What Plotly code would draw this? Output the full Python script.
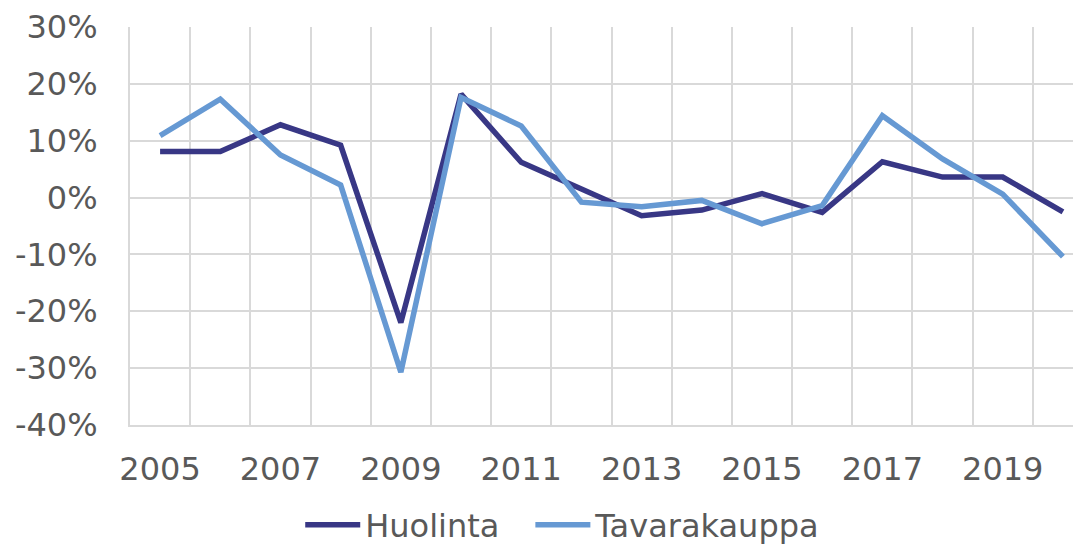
import plotly.graph_objects as go

years = list(range(2005, 2021))
huolinta = [8.1, 8.1, 12.8, 9.2, -22.0, 18.2, 6.2, 1.6, -3.2, -2.2, 0.7, -2.6, 6.3, 3.6, 3.6, -2.5]
tavarakauppa = [10.9, 17.3, 7.5, 2.2, -30.7, 17.6, 12.6, -0.8, -1.6, -0.5, -4.6, -1.4, 14.4, 6.8, 0.6, -10.4]
tick_years = [2005, 2007, 2009, 2011, 2013, 2015, 2017, 2019]
y_ticks = [30, 20, 10, 0, -10, -20, -30, -40]
y_ticklabels = ["30%", "20%", "10%", "0%", "-10%", "-20%", "-30%", "-40%"]

font_family = "DejaVu Sans"
text_color = "#595959"
grid_color = "#d9d9d9"

fig = go.Figure()
fig.add_trace(go.Scatter(x=years, y=huolinta, mode="lines", name="Huolinta",
                         line=dict(color="#383785", width=5.5), legend="legend"))
fig.add_trace(go.Scatter(x=years, y=tavarakauppa, mode="lines", name="Tavarakauppa",
                         line=dict(color="#6699d3", width=5.5), legend="legend2"))

legend_style = dict(orientation="h", xanchor="left", y=-0.251, yanchor="middle",
                    itemwidth=55, font=dict(size=32, color=text_color))

# page body has an 8px default margin, so the figure is sized/offset to compensate
fig.update_layout(
    width=1073, height=538,
    margin=dict(l=122, r=0, t=19, b=121, autoexpand=False),
    paper_bgcolor="white", plot_bgcolor="white",
    font=dict(family=font_family, size=32, color=text_color),
    showlegend=True,
    legend=dict(x=0.179, **legend_style),
    legend2=dict(x=0.421, **legend_style),
)
fig.update_xaxes(
    range=[2004.5, 2020.3], tickvals=tick_years, ticktext=[str(y) for y in tick_years],
    showgrid=False, zeroline=False, ticks="", ticklabelstandoff=15, automargin=False,
    minor=dict(tick0=2004.5, dtick=1, showgrid=True, gridcolor=grid_color, gridwidth=2),
    showline=True, linecolor=grid_color, linewidth=2,
)
fig.update_yaxes(
    range=[-40, 30], tickvals=y_ticks, ticktext=y_ticklabels, showgrid=True,
    gridcolor=grid_color, gridwidth=2, automargin=False,
    zeroline=False, ticks="", ticklabelstandoff=24,
    showline=True, linecolor=grid_color, linewidth=2,
)

fig.write_html("out.html")
